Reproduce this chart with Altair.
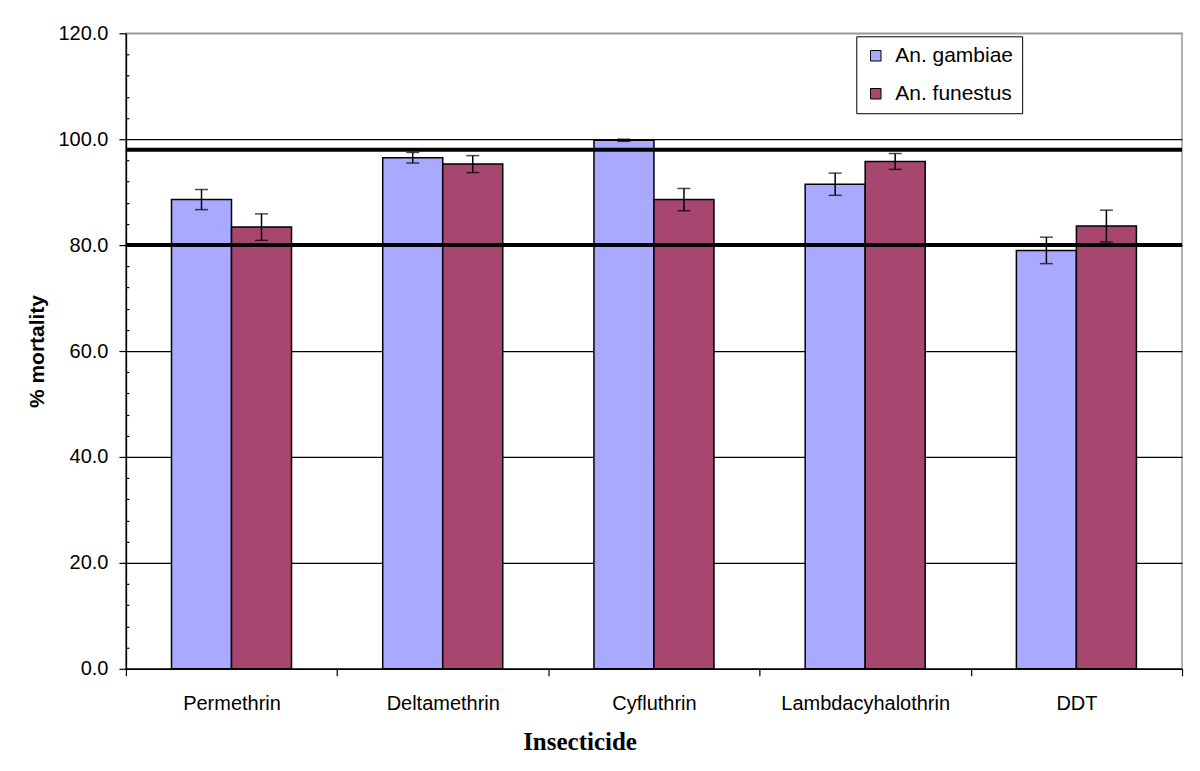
import altair as alt
import pandas as pd

categories = ["Permethrin", "Deltamethrin", "Cyfluthrin", "Lambdacyhalothrin", "DDT"]
species = ["An. gambiae", "An. funestus"]
gambiae = [88.6, 96.5, 99.8, 91.5, 79.0]
gambiae_err = [1.9, 1.0, 0.2, 2.1, 2.5]
funestus = [83.4, 95.3, 88.6, 95.8, 83.6]
funestus_err = [2.5, 1.6, 2.1, 1.5, 3.0]
thresholds = [80, 98]
y_ticks = [0, 20, 40, 60, 80, 100, 120]
y_minor = [4, 8, 12, 16, 24, 28, 32, 36, 44, 48, 52, 56, 64, 68, 72, 76,
           84, 88, 92, 96, 104, 108, 112, 116]
colors = ["#A9A9FF", "#A7466F"]

rows = []
for i, c in enumerate(categories):
    rows.append({"Insecticide": c, "Species": species[0], "value": gambiae[i], "err": gambiae_err[i]})
    rows.append({"Insecticide": c, "Species": species[1], "value": funestus[i], "err": funestus_err[i]})
df = pd.DataFrame(rows)
df["lo"] = df["value"] - df["err"]
df["hi"] = df["value"] + df["err"]

yscale = alt.Scale(domain=[0, 120], nice=False, zero=True)

x_enc = alt.X(
    "Insecticide:N", sort=categories,
    scale=alt.Scale(paddingInner=0, paddingOuter=0),
    axis=alt.Axis(
        title="Insecticide", labelAngle=0, tickBand="extent", tickSize=7,
        tickColor="black", tickWidth=1.2, domainColor="black", domainWidth=1.5,
        labelFont="Liberation Sans", labelFontSize=20, labelColor="black",
        labelPadding=18, titleFont="Liberation Serif", titleFontSize=25,
        titleFontWeight="bold", titleColor="black", titlePadding=16, grid=False,
        titleX=454, titleAlign="center",
    ),
)
xoff = alt.XOffset("Species:N", sort=species,
                   scale=alt.Scale(paddingInner=0, paddingOuter=0.76))

y_axis = alt.Axis(
    orient="left", values=y_ticks, format=".1f", title="% mortality",
    tickSize=7, tickColor="black", tickWidth=1.2, domainColor="black",
    domainWidth=1.5, labelFont="Liberation Sans", labelFontSize=20,
    labelColor="black", labelPadding=11, titleFont="Liberation Sans",
    titleFontSize=21, titleFontWeight="bold", titleColor="black",
    titlePadding=10, grid=True, gridWidth=1.2,
    gridColor=alt.condition("datum.value == 120", alt.value("#9a9a9a"), alt.value("black")),
)

minor_axis = alt.Axis(
    orient="left", values=y_minor, labels=False, domain=False, grid=False,
    ticks=True, tickSize=3, tickColor="black", tickWidth=1.2, offset=-3, title=None,
)

base = alt.Chart(df)

bars = base.mark_bar(stroke="black", strokeWidth=1.5).encode(
    x=x_enc, xOffset=xoff,
    y=alt.Y("value:Q", scale=yscale, axis=y_axis),
    color=alt.Color(
        "Species:N",
        scale=alt.Scale(domain=species, range=colors),
        legend=alt.Legend(
            orient="none", legendX=731, legendY=3, title=None,
            fillColor="white", strokeColor="black", padding=9,
            labelFont="Liberation Sans", labelFontSize=21, labelColor="black",
            symbolType="square", symbolSize=110, rowPadding=16, labelOffset=9,
            symbolStrokeColor="black", symbolStrokeWidth=1,
        ),
    ),
)

err = base.mark_rule(color="black", strokeWidth=1.5).encode(
    x=x_enc, xOffset=xoff,
    y=alt.Y("lo:Q", scale=yscale, axis=None), y2="hi:Q",
)
cap_hi = base.mark_tick(color="black", thickness=1.5, size=13).encode(
    x=x_enc, xOffset=xoff, y=alt.Y("hi:Q", scale=yscale, axis=None),
)
cap_lo = base.mark_tick(color="black", thickness=1.5, size=13).encode(
    x=x_enc, xOffset=xoff, y=alt.Y("lo:Q", scale=yscale, axis=None),
)

thr = alt.Chart(pd.DataFrame({"t": thresholds})).mark_rule(
    color="black", strokeWidth=4
).encode(y=alt.Y("t:Q", scale=yscale, axis=minor_axis))

chart = (
    alt.layer(bars, err, cap_hi, cap_lo, thr)
    .resolve_axis(y="independent")
    .properties(
        width=1057, height=636,
        autosize=alt.AutoSizeParams(type="none"),
        padding={"left": 118, "top": 25, "right": 10, "bottom": 100},
        background="white",
    )
    .configure_view(stroke="#9a9a9a", strokeWidth=1.5)
)

chart.save("out.html", embed_options={"renderer": "svg", "actions": False})
